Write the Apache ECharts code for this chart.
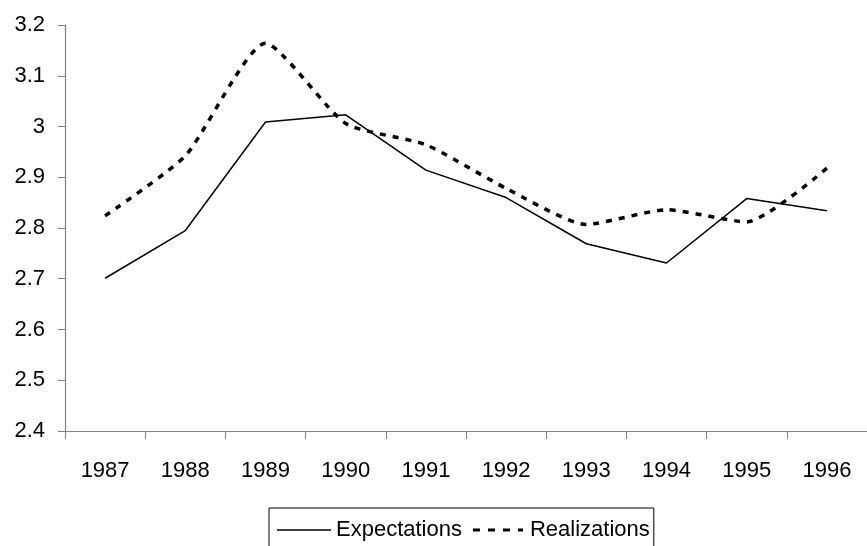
<!DOCTYPE html>
<html>
<head>
<meta charset="utf-8">
<script src="https://cdn.jsdelivr.net/npm/echarts@6/dist/echarts.min.js"></script>
<style>
html,body{margin:0;padding:0;background:#fff;}
#c{width:867px;height:546px;}
</style>
</head>
<body>
<div id="c"></div>
<script>
const years = ['1987','1988','1989','1990','1991','1992','1993','1994','1995','1996'];
const expectations = [2.701, 2.795, 3.009, 3.023, 2.914, 2.860, 2.769, 2.731, 2.858, 2.834];
const realizations = [2.824, 2.942, 3.164, 3.006, 2.964, 2.878, 2.807, 2.836, 2.812, 2.918];
const yTicks = { min: 2.4, max: 3.2, step: 0.1 };

const chart = echarts.init(document.getElementById('c'), null, {renderer: 'canvas'});
const font = 'Liberation Sans, Arial, sans-serif';
const dashIcon = 'path://M0,0h7v3h-7z M15,0h7v3h-7z M30,0h7v3h-7z M45,0h5v3h-5z';
chart.setOption({
  backgroundColor: '#fff',
  animation: false,
  textStyle: { fontFamily: font },
  grid: { left: 65, top: 25, width: 807, bottom: 115, containLabel: false },
  xAxis: {
    type: 'category',
    data: years,
    boundaryGap: true,
    axisLine: { lineStyle: { color: '#808080', width: 1.2 } },
    axisTick: { show: true, length: 8, inside: false, lineStyle: { color: '#808080' } },
    axisLabel: { color: '#000', fontSize: 22, margin: 29, fontFamily: font },
    splitLine: { show: false }
  },
  yAxis: {
    type: 'value',
    min: yTicks.min, max: yTicks.max, interval: yTicks.step,
    axisLine: { show: true, lineStyle: { color: '#808080', width: 1.2 } },
    axisTick: { show: true, length: 7, lineStyle: { color: '#808080' } },
    axisLabel: { color: '#000', fontSize: 22, margin: 20, fontFamily: font,
      formatter: v => String(Math.round(v * 10) / 10) },
    splitLine: { show: false }
  },
  legend: {
    left: 269, top: 508,
    padding: [11, 4, 20, 8],
    borderColor: '#000', borderWidth: 1,
    itemWidth: 54, itemHeight: 3, itemGap: 11,
    textStyle: { color: '#000', fontSize: 22, fontFamily: font },
    data: [
      { name: 'Expectations', icon: 'path://M0,0h54v1.5h-54z', itemStyle: { color: '#000' } },
      { name: 'Realizations', icon: dashIcon, itemStyle: { color: '#000' } }
    ]
  },
  series: [
    { name: 'Expectations', type: 'line', data: expectations, symbol: 'none',
      lineStyle: { color: '#000', width: 1.5 }, itemStyle: { color: '#000' } },
    { name: 'Realizations', type: 'line', data: realizations, symbol: 'none', smooth: 0.2,
      lineStyle: { color: '#000', width: 3.5, type: [6, 7], cap: 'butt' }, itemStyle: { color: '#000' } }
  ]
});
</script>
</body>
</html>
